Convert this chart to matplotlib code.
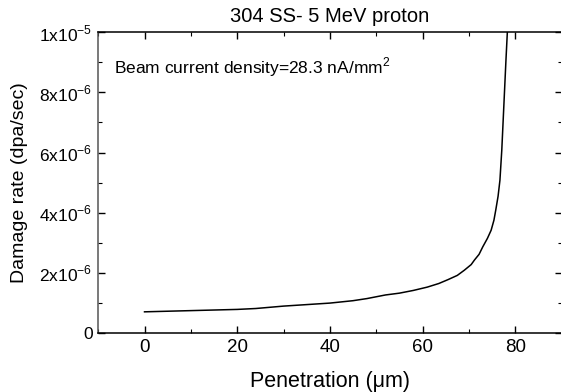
import matplotlib
matplotlib.use("Agg")
import matplotlib.pyplot as plt
from matplotlib.ticker import FixedLocator, MultipleLocator

plt.rcParams['font.family'] = ['Liberation Sans', 'DejaVu Sans']
plt.rcParams['mathtext.fontset'] = 'custom'
plt.rcParams['mathtext.rm'] = 'Liberation Sans'

# penetration depth (um) and damage rate (dpa/sec)
depth = [0, 10, 20, 24, 30, 40, 45, 48, 52, 55, 58, 61, 63.5, 65.5, 67.5,
         69, 70.5, 71.2, 72.2, 73, 74, 74.8, 75.4, 75.8, 76.3, 76.7, 77.1,
         77.6, 78.0, 78.3]
rate = [0.71e-6, 0.75e-6, 0.79e-6, 0.82e-6, 0.90e-6, 1.00e-6, 1.08e-6,
        1.15e-6, 1.27e-6, 1.33e-6, 1.42e-6, 1.53e-6, 1.65e-6, 1.78e-6,
        1.92e-6, 2.09e-6, 2.28e-6, 2.43e-6, 2.62e-6, 2.87e-6, 3.15e-6,
        3.42e-6, 3.75e-6, 4.09e-6, 4.55e-6, 5.08e-6, 6.08e-6, 7.74e-6,
        9.07e-6, 1.0e-5]

yticks = [0, 2e-6, 4e-6, 6e-6, 8e-6, 1e-5]
ylabels = ['0', r'2x10$^{-6}$', r'4x10$^{-6}$', r'6x10$^{-6}$',
           r'8x10$^{-6}$', r'1x10$^{-5}$']

fig = plt.figure(figsize=(5.61, 3.92), dpi=100)
ax = fig.add_axes([0.175, 0.150, 0.826, 0.768])

ax.plot(depth, rate, color='black', lw=1.1)

ax.set_xlim(-10, 90)
ax.set_ylim(0, 1e-5)
ax.xaxis.set_major_locator(MultipleLocator(20))
ax.xaxis.set_minor_locator(MultipleLocator(10))
ax.yaxis.set_major_locator(FixedLocator(yticks))
ax.yaxis.set_minor_locator(MultipleLocator(1e-6))
ax.set_yticklabels(ylabels)

ax.tick_params(which='both', direction='in', top=True, right=True, pad=4)
ax.tick_params(axis='x', labelsize=13.5)
ax.tick_params(axis='y', labelsize=12.5)
ax.tick_params(which='major', length=5, width=1)
ax.tick_params(which='minor', length=3, width=0.8)
for s in ax.spines.values():
    s.set_linewidth(1.1)
ax.spines['left'].set_color('#555555')

ax.set_xlabel('Penetration (\u03bcm)', fontsize=15.5, labelpad=11)
ax.set_ylabel('Damage rate (dpa/sec)', fontsize=14, labelpad=8)
ax.set_title('304 SS- 5 MeV proton', fontsize=14.5, pad=7)

ax.text(0.035, 0.885, r'Beam current density=28.3 nA/mm$^{2}$', fontsize=12.5,
        transform=ax.transAxes, va='center')

fig.savefig('out.png', dpi=100)
